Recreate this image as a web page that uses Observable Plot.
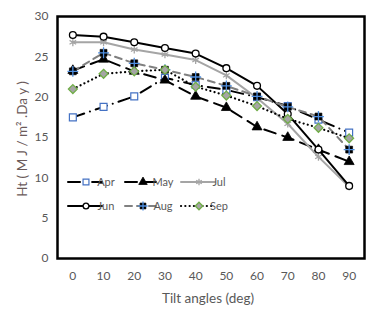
<!DOCTYPE html>
<html>
<head>
<meta charset="utf-8">
<script src="https://cdn.jsdelivr.net/npm/d3@7"></script>
<script src="https://cdn.jsdelivr.net/npm/@observablehq/plot@0.6"></script>
<style>
  html, body { margin: 0; padding: 0; background: white; }
  #chart { width: 377px; height: 315px; }
</style>
</head>
<body>
<div id="chart"></div>
<script>
// ---- Data ----
const angles = [0, 10, 20, 30, 40, 50, 60, 70, 80, 90];
const yTicks = [0, 5, 10, 15, 20, 25, 30];
const apr = [17.5, 18.8, 20.1, 22.4, 21.5, 20.9, 20.0, 18.9, 17.2, 15.6];
const may = [23.3, 24.7, 23.2, 22.1, 20.1, 18.7, 16.3, 15.0, 13.5, 12.0];
const jul = [26.8, 26.8, 25.9, 25.3, 24.6, 22.7, 19.9, 16.7, 12.6, 8.9];
const jun = [27.7, 27.5, 26.8, 26.1, 25.4, 23.6, 21.4, 17.9, 13.5, 9.0];
const aug = [23.2, 25.5, 24.2, 23.4, 22.5, 21.4, 20.1, 18.8, 17.6, 13.5];
const sep = [21.0, 22.9, 23.2, 23.4, 21.3, 20.2, 18.9, 17.3, 16.2, 14.9];
const seriesNames = ["Apr", "May", "Jul", "Jun", "Aug", "Sep"];
const xTitle = "Tilt angles (deg)";
const yTitle = "Ht ( M J / m\u00B2 .Da y )";

// ---- Styles ----
const styles = {
  Apr: {values: apr, stroke: "#000", dash: "12 6 0.1 6", width: 2,
        marks: [{symbol: "square", r: 3.9, fill: "white", stroke: "#4472C4", sw: 1.2}]},
  May: {values: may, stroke: "#000", dash: "12 7", width: 2,
        marks: [{symbol: "triangle", r: 3.7, fill: "black", stroke: "black", sw: 0.8}]},
  Jul: {values: jul, stroke: "#A5A5A5", dash: null, width: 2,
        marks: [{symbol: "asterisk", r: 3.6, fill: "none", stroke: "#A5A5A5", sw: 1.3}]},
  Jun: {values: jun, stroke: "#000", dash: null, width: 2,
        marks: [{symbol: "circle", r: 3.4, fill: "white", stroke: "black", sw: 1.3}]},
  Aug: {values: aug, stroke: "#808080", dash: "7 5", width: 2,
        marks: [{symbol: "square", r: 3.9, fill: "black", stroke: "black", sw: 0.6},
                {symbol: "plus", r: 3.6, fill: "none", stroke: "#4F8FE0", sw: 1.3}]},
  Sep: {values: sep, stroke: "#000", dash: "0.1 4.2", width: 2.2,
        marks: [{symbol: "diamond2", r: 4.0, fill: "#A5A5A5", stroke: "#70AD47", sw: 1.3}]}
};

const rows = [];
for (const name of seriesNames) {
  styles[name].values.forEach((v, i) => rows.push({series: name, angle: angles[i], value: v}));
}

const marks = [];
for (const name of seriesNames) {
  const s = styles[name];
  const data = rows.filter(d => d.series === name);
  marks.push(Plot.line(data, {x: "angle", y: "value", stroke: s.stroke, strokeWidth: s.width,
    strokeDasharray: s.dash || undefined, strokeLinecap: "round", strokeLinejoin: "round"}));
  for (const m of s.marks) {
    marks.push(Plot.dot(data, {x: "angle", y: "value", symbol: m.symbol, r: m.r,
      fill: m.fill, stroke: m.stroke, strokeWidth: m.sw}));
  }
}
marks.push(Plot.frame({stroke: "black", strokeWidth: 2.5}));

const W = 377, H = 315;
const svg = Plot.plot({
  width: W, height: H,
  marginLeft: 57, marginRight: 13, marginTop: 16, marginBottom: 57,
  style: {fontFamily: "Lato, 'Open Sans', sans-serif", fontSize: "12px", color: "#595959", background: "white", overflow: "visible"},
  x: {domain: [-5, 95], ticks: angles, tickSize: 0, tickPadding: 13, label: null, tickFormat: d => String(d)},
  y: {domain: [0, 30], ticks: yTicks, tickSize: 0, tickPadding: 9, label: null},
  marks
});
document.getElementById("chart").appendChild(svg);

// ---- Axis titles ----
const g = d3.select(svg);
g.append("text").text(xTitle)
  .attr("x", 208).attr("y", 303)
  .attr("text-anchor", "middle")
  .attr("font-family", "Lato, 'Open Sans', sans-serif")
  .attr("font-size", "13.5px").attr("fill", "#595959");
g.append("text").text(yTitle)
  .attr("transform", "translate(27,139) rotate(-90)")
  .attr("text-anchor", "middle")
  .attr("font-family", "Lato, 'Open Sans', sans-serif")
  .attr("font-size", "13.5px").attr("fill", "#6b5a5a");

// ---- Legend (inside plot) ----
const symbolTypes = {square: d3.symbolSquare, triangle: d3.symbolTriangle, asterisk: d3.symbolAsterisk,
  circle: d3.symbolCircle, plus: d3.symbolPlus, diamond2: d3.symbolDiamond2};
const legendPos = [[68, 182], [125, 182], [181, 182], [68, 206], [125, 206], [181, 206]];
const lg = g.append("g");
seriesNames.forEach((name, i) => {
  const s = styles[name];
  const [x0, y0] = legendPos[i];
  lg.append("line").attr("x1", x0).attr("x2", x0 + 34).attr("y1", y0).attr("y2", y0)
    .attr("stroke", s.stroke).attr("stroke-width", s.width)
    .attr("stroke-dasharray", s.dash ? s.dash : null)
    .attr("stroke-linecap", "round");
  for (const m of s.marks) {
    const r = m.r * 0.85;
    lg.append("path")
      .attr("d", d3.symbol(symbolTypes[m.symbol], Math.PI * r * r)())
      .attr("transform", `translate(${x0 + 18},${y0})`)
      .attr("fill", m.fill).attr("stroke", m.stroke).attr("stroke-width", m.sw);
  }
  lg.append("text").text(name).attr("x", x0 + 38).attr("y", y0).attr("dy", "0.35em")
    .attr("font-family", "Lato, 'Open Sans', sans-serif")
    .attr("font-size", "11px").attr("fill", "#595959");
});
</script>
</body>
</html>
